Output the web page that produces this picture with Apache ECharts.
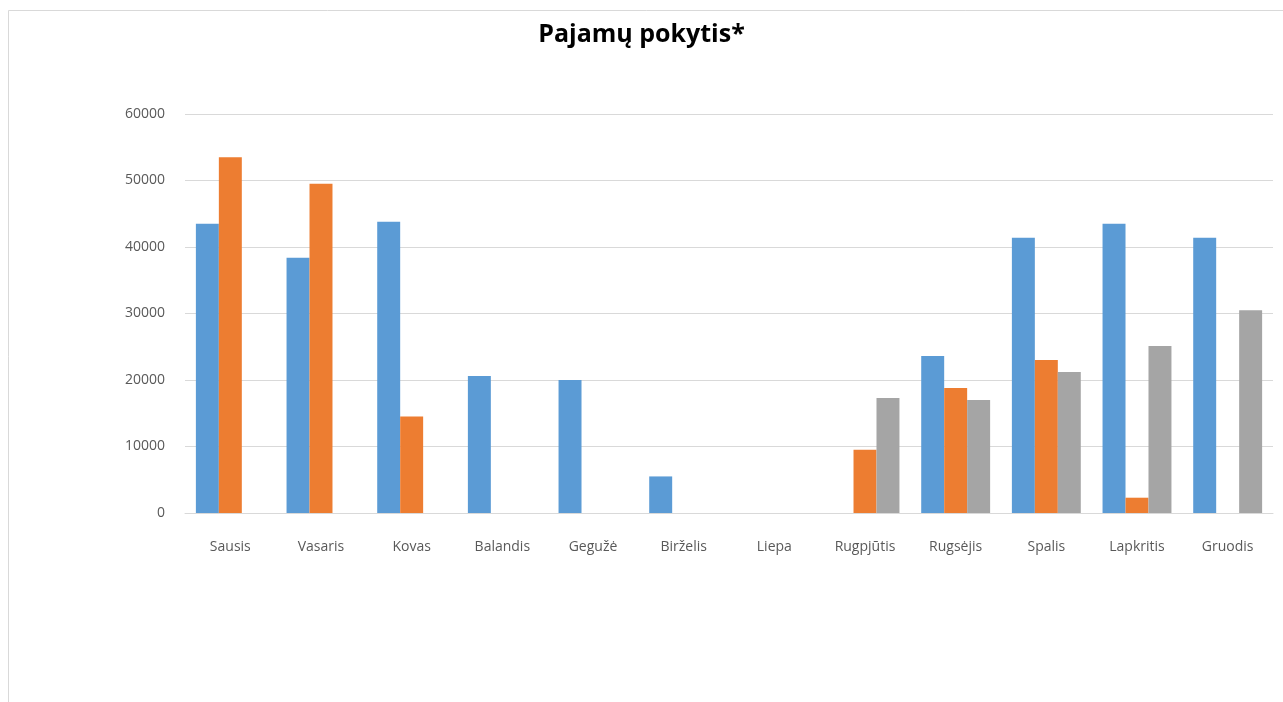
<!DOCTYPE html>
<html>
<head>
<meta charset="utf-8">
<script src="https://cdn.jsdelivr.net/npm/echarts@6/dist/echarts.min.js"></script>
<style>
html,body{margin:0;padding:0;background:#fff;}
#chart{width:1283px;height:702px;}
</style>
</head>
<body>
<div id="chart"></div>
<script>
const categories = ['Sausis','Vasaris','Kovas','Balandis','Gegužė','Birželis','Liepa','Rugpjūtis','Rugsėjis','Spalis','Lapkritis','Gruodis'];
const series1 = [43500, 38400, 43800, 20600, 20000, 5500, null, null, 23600, 41400, 43500, 41400];
const series2 = [53500, 49500, 14500, null, null, null, null, 9500, 18800, 23000, 2300, null];
const series3 = [null, null, null, null, null, null, null, 17300, 17000, 21200, 25100, 30500];
const seriesNames = ['1 seka', '2 seka', '3 seka'];
const yTicks = [0, 10000, 20000, 30000, 40000, 50000, 60000];

const chart = echarts.init(document.getElementById('chart'), null, {renderer: 'canvas'});
const font = '"Open Sans", "Noto Sans", sans-serif';
chart.setOption({
  backgroundColor: '#ffffff',
  animation: false,
  graphic: [{
    type: 'rect',
    shape: {x: 8.5, y: 10.5, width: 1400, height: 800},
    style: {fill: 'none', stroke: '#d9d9d9', lineWidth: 1},
    silent: true
  }],
  title: {
    text: 'Pajamų pokytis*',
    left: 'center',
    top: 17,
    textStyle: {fontFamily: font, fontWeight: 'bold', fontSize: 25, color: '#000000'}
  },
  grid: {left: 185, right: 10, top: 114, bottom: 189, containLabel: false},
  xAxis: {
    type: 'category',
    data: categories,
    axisLine: {show: true, lineStyle: {color: '#d9d9d9', width: 1}},
    axisTick: {show: false},
    axisLabel: {fontFamily: font, fontSize: 14, color: '#595959', margin: 27, interval: 0}
  },
  yAxis: {
    type: 'value',
    min: yTicks[0],
    max: yTicks[yTicks.length - 1],
    interval: 10000,
    axisLine: {show: false},
    axisTick: {show: false},
    splitLine: {lineStyle: {color: '#d9d9d9', width: 1}},
    axisLabel: {fontFamily: font, fontSize: 14, color: '#595959', margin: 20, formatter: function (v) { return String(v); }}
  },
  series: [
    {name: seriesNames[0], type: 'bar', data: series1, itemStyle: {color: '#5B9BD5'}, barGap: '0%', barCategoryGap: '24%'},
    {name: seriesNames[1], type: 'bar', data: series2, itemStyle: {color: '#ED7D31'}, barGap: '0%', barCategoryGap: '24%'},
    {name: seriesNames[2], type: 'bar', data: series3, itemStyle: {color: '#A5A5A5'}, barGap: '0%', barCategoryGap: '24%'}
  ]
});
</script>
</body>
</html>
